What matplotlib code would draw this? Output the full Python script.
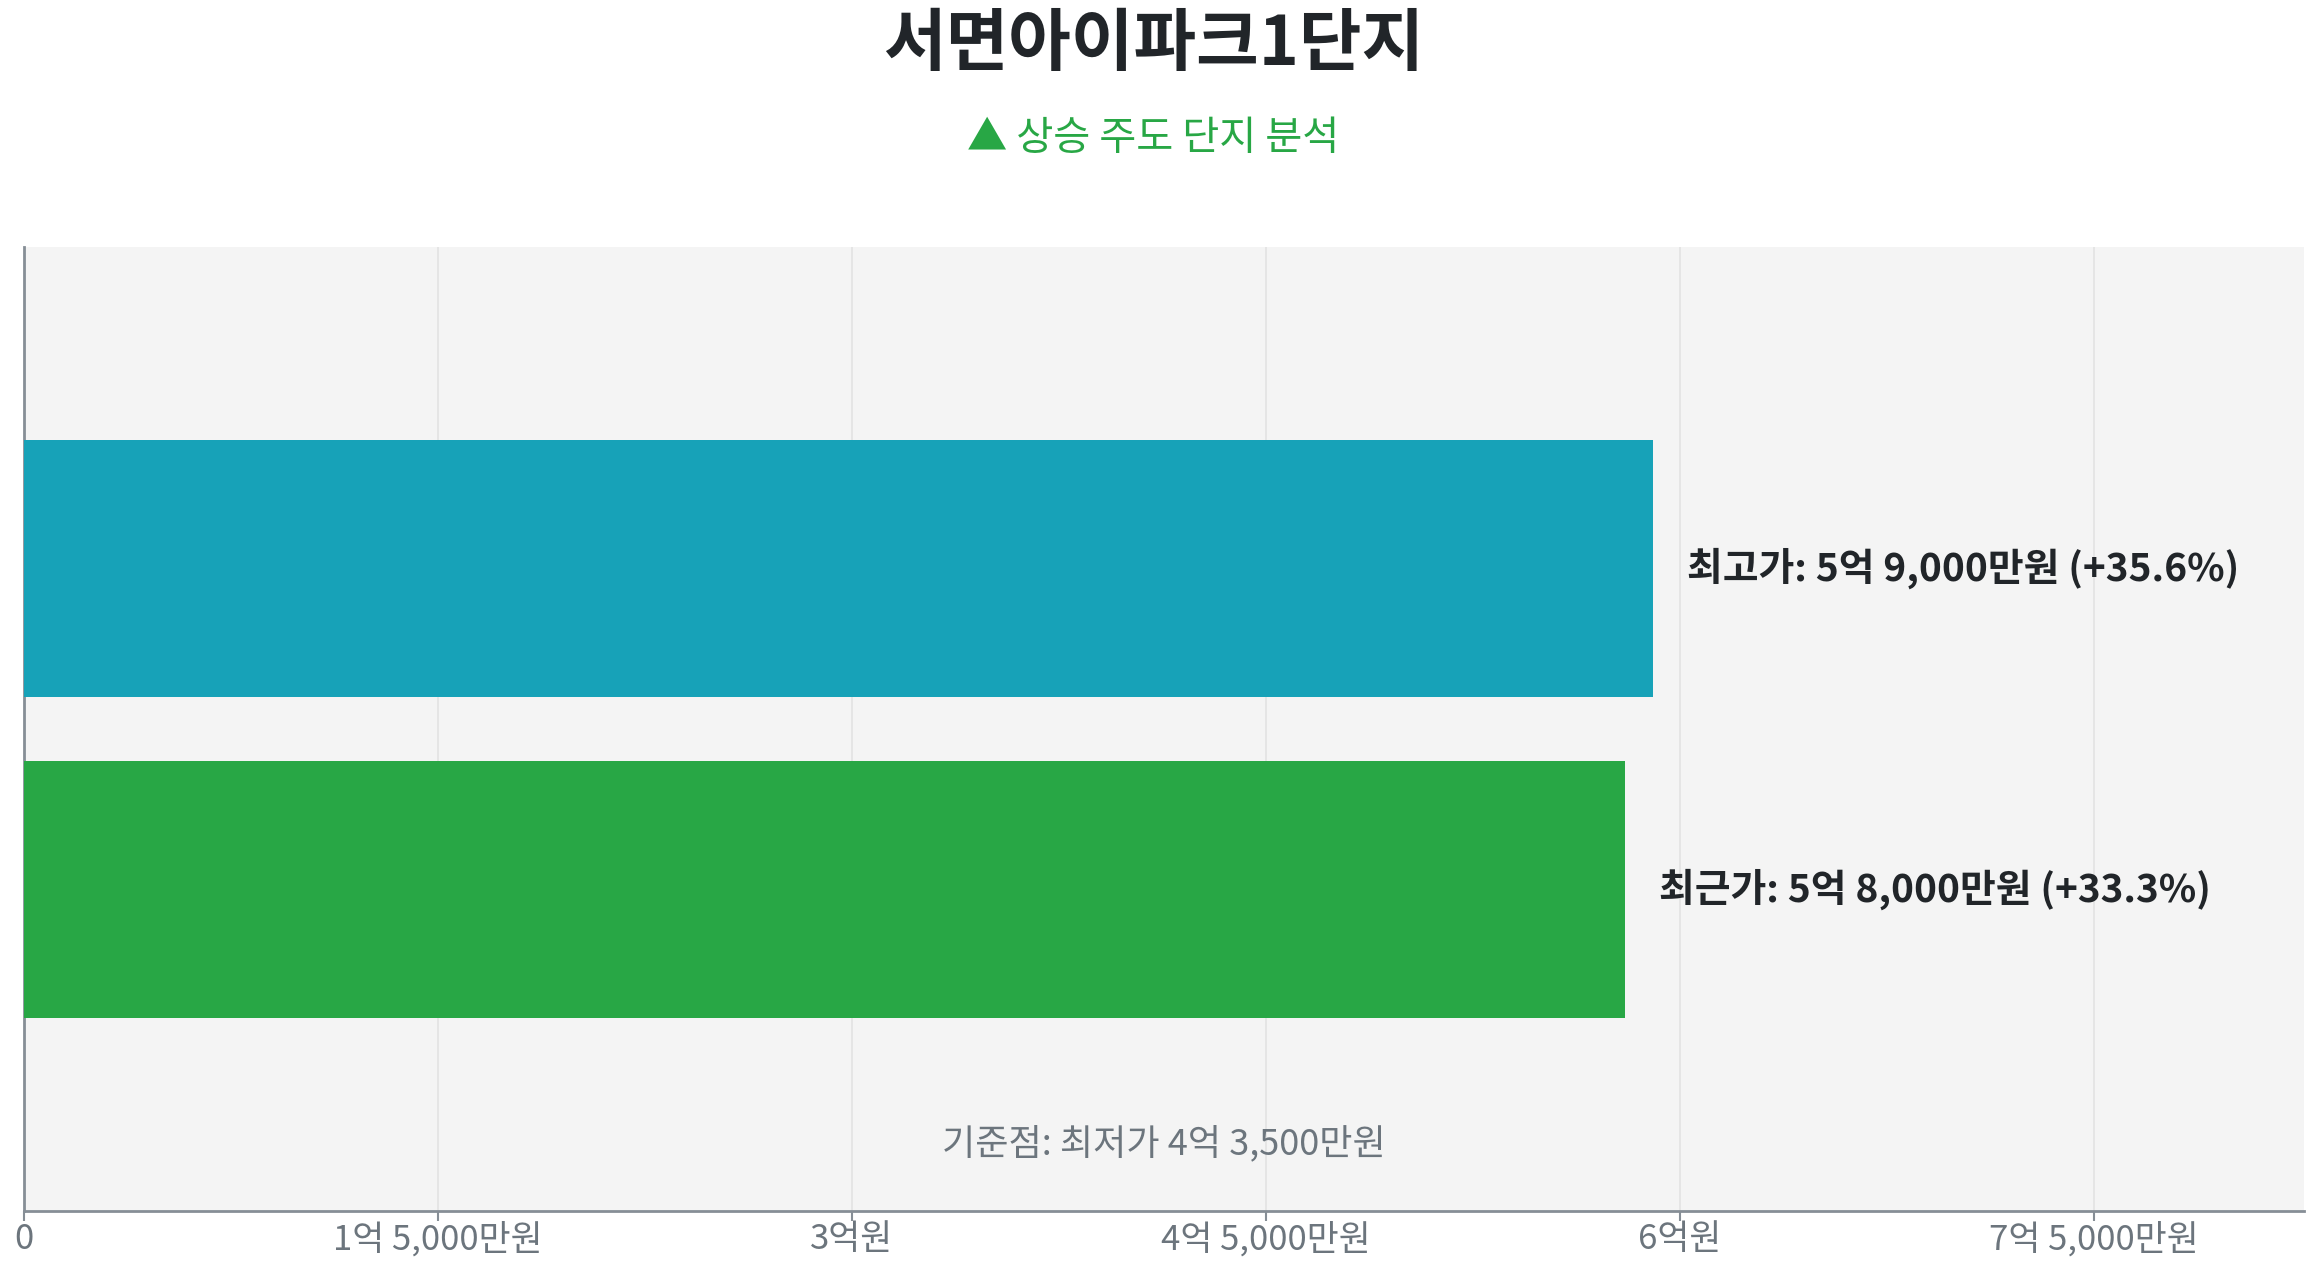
import matplotlib
matplotlib.use('Agg')
import matplotlib.pyplot as plt
from matplotlib.ticker import FuncFormatter, MultipleLocator

plt.rcParams['font.family'] = ['Noto Sans CJK KR', 'DejaVu Sans']

# 가격 (만원)
categories = ['최근가', '최고가']
prices = [58000, 59000]
base_price = 43500
bar_colors = ['#28a745', '#17a2b8']

title = '서면아이파크1단지'
subtitle = '▲ 상승 주도 단지 분석'


def won_label(v):
    # 만원 단위 -> "X억 Y,000만원"
    v = int(round(v))
    if v == 0:
        return '0'
    eok, man = divmod(v, 10000)
    if eok and man:
        return '{}억 {:,}만원'.format(eok, man)
    if eok:
        return '{}억원'.format(eok)
    return '{:,}만원'.format(man)


fig = plt.figure(figsize=(23.07, 12.68), dpi=100)
ax = fig.add_axes([0.0104, 0.045, 0.9883, 0.760])
ax.set_facecolor('#f4f4f4')

y = list(range(len(categories)))
ax.barh(y, prices, height=0.8, color=bar_colors, zorder=3)

ax.set_xlim(0, max(prices) * 1.4)
ax.set_ylim(-1, len(categories))
ax.xaxis.set_major_locator(MultipleLocator(15000))
ax.xaxis.set_major_formatter(FuncFormatter(lambda v, p: won_label(v)))
ax.set_yticks([])
ax.grid(axis='x', color='#e2e2e2', linewidth=1.2, zorder=0)

for s in ['top', 'right']:
    ax.spines[s].set_visible(False)
for s in ['left', 'bottom']:
    ax.spines[s].set_color('#868e96')
    ax.spines[s].set_linewidth(2)
ax.tick_params(axis='x', colors='#868e96', length=7, width=1.5, labelsize=25,
               labelcolor='#6c757d', pad=1)

offset = max(prices) * 1.4 * 0.015
for yi, cat, v in zip(y, categories, prices):
    pct = (v / base_price - 1) * 100
    ax.text(v + offset, yi, '{}: {} (+{:.1f}%)'.format(cat, won_label(v), pct),
            va='center', ha='left', fontsize=28, fontweight='bold', color='#212529', zorder=4)

ax.text(0.5, 0.07, '기준점: 최저가 {}'.format(won_label(base_price)), transform=ax.transAxes,
        ha='center', va='center', fontsize=26, color='#6c757d', zorder=4)

fig.text(0.5, 0.964, title, ha='center', va='center', fontsize=49, fontweight='bold', color='#212529')
fig.text(0.5, 0.891, subtitle, ha='center', va='center', fontsize=29, color='#28a745')

fig.savefig('out.png', dpi=100)
